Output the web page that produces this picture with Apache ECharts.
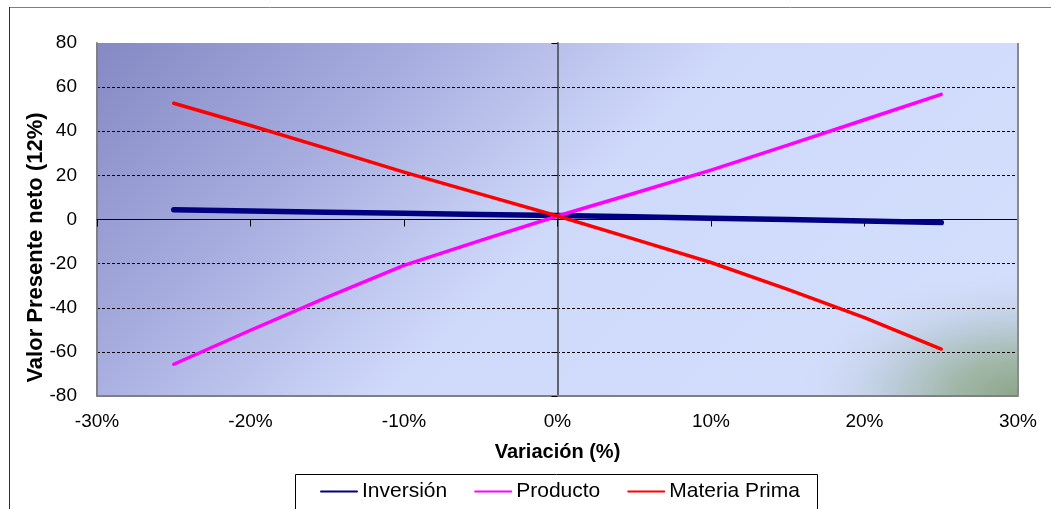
<!DOCTYPE html>
<html>
<head>
<meta charset="utf-8">
<script src="https://cdn.jsdelivr.net/npm/echarts@6/dist/echarts.min.js"></script>
<style>
  html, body { margin: 0; padding: 0; background: #ffffff; }
  #chart { width: 1051px; height: 509px; }
</style>
</head>
<body>
<div id="chart"></div>
<script>
// Sensitivity of the net present value (12%) to a variation in each input
const variacion = [-25, -20, -15, -10, -5, 0, 5, 10, 15, 20, 25];
const inversion = [4.4, 3.8, 3.3, 2.8, 2.3, 1.8, 1.2, 0.6, 0.0, -0.7, -1.4];
const producto = [-65.6, -50.2, -35.2, -20.8, -9.5, 1.6, 11.9, 22.4, 33.7, 45.2, 56.7];
const materiaPrima = [52.7, 42.6, 32.1, 21.5, 11.5, 1.6, -8.9, -19.5, -31.7, -44.5, -58.7];

const seriesNames = ['Inversión', 'Producto', 'Materia Prima'];
const seriesColors = ['#000080', '#ff00ff', '#ff0000'];
const seriesWidths = [5.5, 3.5, 3.5];
const seriesValues = [inversion, producto, materiaPrima];

const xTitle = 'Variación (%)';
const yTitle = 'Valor Presente neto (12%)';

const FONT = 'Liberation Sans, Arial, sans-serif';

const chart = echarts.init(document.getElementById('chart'), null, { renderer: 'canvas' });

const plotLeft = 97, plotTop = 43, plotRight = 1018, plotBottom = 396;

// diagonal blue wash behind the plot
const plotFill = new echarts.graphic.LinearGradient(
  plotLeft, plotTop, plotLeft + 637, plotTop + 637,
  [
    { offset: 0.0, color: '#8589c4' },
    { offset: 0.25, color: '#a6acde' },
    { offset: 0.5, color: '#cfd9fa' },
    { offset: 1.0, color: '#d4dffd' }
  ],
  true
);

// greenish glow in the lower right corner of the plot (stretched horizontally)
const cornerGlow = new echarts.graphic.RadialGradient(1, 1, 1, [
  { offset: 0.0, color: 'rgba(140,166,136,1)' },
  { offset: 0.16, color: 'rgba(160,183,168,0.97)' },
  { offset: 0.33, color: 'rgba(190,205,222,0.85)' },
  { offset: 0.56, color: 'rgba(212,223,253,0)' }
]);

const option = {
  animation: false,
  backgroundColor: '#ffffff',
  textStyle: { fontFamily: FONT },
  grid: {
    left: plotLeft,
    right: 1051 - plotRight,
    top: plotTop,
    bottom: 509 - plotBottom,
    show: true,
    backgroundColor: plotFill,
    borderWidth: 0,
    z: 0
  },
  graphic: [
    {
      type: 'rect',
      x: plotRight, y: plotBottom,
      scaleX: 1.8, scaleY: 1,
      shape: { x: -235, y: -235, width: 235, height: 235 },
      style: { fill: cornerGlow },
      silent: true, z: 0.5
    },
    // outer chart frame
    { type: 'line', shape: { x1: 9, y1: 7.5, x2: 1051, y2: 7.5 }, style: { stroke: '#808080', lineWidth: 1 }, silent: true },
    { type: 'line', shape: { x1: 9.5, y1: 7, x2: 9.5, y2: 509 }, style: { stroke: '#303030', lineWidth: 1 }, silent: true },
    // right edge of the plot area
    { type: 'line', shape: { x1: plotRight, y1: plotTop, x2: plotRight, y2: plotBottom }, style: { stroke: '#8a8a8a', lineWidth: 2 }, silent: true, z: 10 },
    // legend box
    { type: 'rect', shape: { x: 295.5, y: 474.5, width: 522, height: 60 }, style: { fill: '#ffffff', stroke: '#000000', lineWidth: 1 }, silent: true, z: 0 }
  ],
  legend: {
    data: seriesNames,
    left: 320,
    top: 481,
    itemWidth: 36,
    itemHeight: 20,
    itemGap: 27,
    padding: 0,
    itemStyle: { opacity: 0 },
    textStyle: { fontFamily: FONT, fontSize: 21, color: '#000000', lineHeight: 20 }
  },
  xAxis: [
    {
      type: 'value',
      min: -30, max: 30, interval: 10,
      position: 'bottom',
      z: 1,
      name: xTitle,
      nameLocation: 'middle',
      nameGap: 46,
      nameMoveOverlap: false,
      nameTextStyle: { fontFamily: FONT, fontSize: 20, fontWeight: 'bold', color: '#000000' },
      axisLine: { onZero: false, lineStyle: { color: '#808080', width: 2 } },
      axisTick: { show: false },
      axisLabel: { formatter: '{value}%', margin: 16, fontFamily: FONT, fontSize: 19, color: '#000000' },
      splitLine: { show: false }
    },
    {
      type: 'value',
      min: -30, max: 30, interval: 10,
      position: 'top',
      z: 1,
      axisLine: { onZero: true, lineStyle: { color: '#000000', width: 1 } },
      axisTick: { show: true, inside: true, length: 7, lineStyle: { color: '#000000', width: 1 } },
      axisLabel: { show: false },
      splitLine: { show: false }
    }
  ],
  yAxis: [
    {
      type: 'value',
      min: -80, max: 80, interval: 20,
      position: 'left',
      z: 1,
      name: yTitle,
      nameLocation: 'middle',
      nameGap: 50,
      nameMoveOverlap: false,
      nameTextStyle: { fontFamily: FONT, fontSize: 22, fontWeight: 'bold', color: '#000000', padding: [0, 56, 0, 0] },
      axisLine: { onZero: false, lineStyle: { color: '#808080', width: 2 } },
      axisTick: { show: false },
      axisLabel: { margin: 20, fontFamily: FONT, fontSize: 19, color: '#000000' },
      splitLine: {
        show: true,
        showMinLine: false,
        showMaxLine: false,
        lineStyle: { color: '#000000', width: 1, type: [3, 2] }
      }
    },
    {
      type: 'value',
      min: -80, max: 80, interval: 20,
      position: 'right',
      z: 1,
      axisLine: { onZero: true, lineStyle: { color: '#5f6370', width: 2 } },
      axisTick: { show: true, inside: true, length: 6, lineStyle: { color: '#000000', width: 1 } },
      axisLabel: { show: false },
      splitLine: { show: false }
    }
  ],
  series: seriesNames.map((name, i) => ({
    name: name,
    type: 'line',
    xAxisIndex: 0,
    yAxisIndex: 0,
    data: variacion.map((v, k) => [v, seriesValues[i][k]]),
    symbol: 'none',
    smooth: false,
    color: seriesColors[i],
    lineStyle: { color: seriesColors[i], width: seriesWidths[i], cap: 'round', join: 'round' },
    z: 3 + i
  }))
};

chart.setOption(option);
</script>
</body>
</html>
